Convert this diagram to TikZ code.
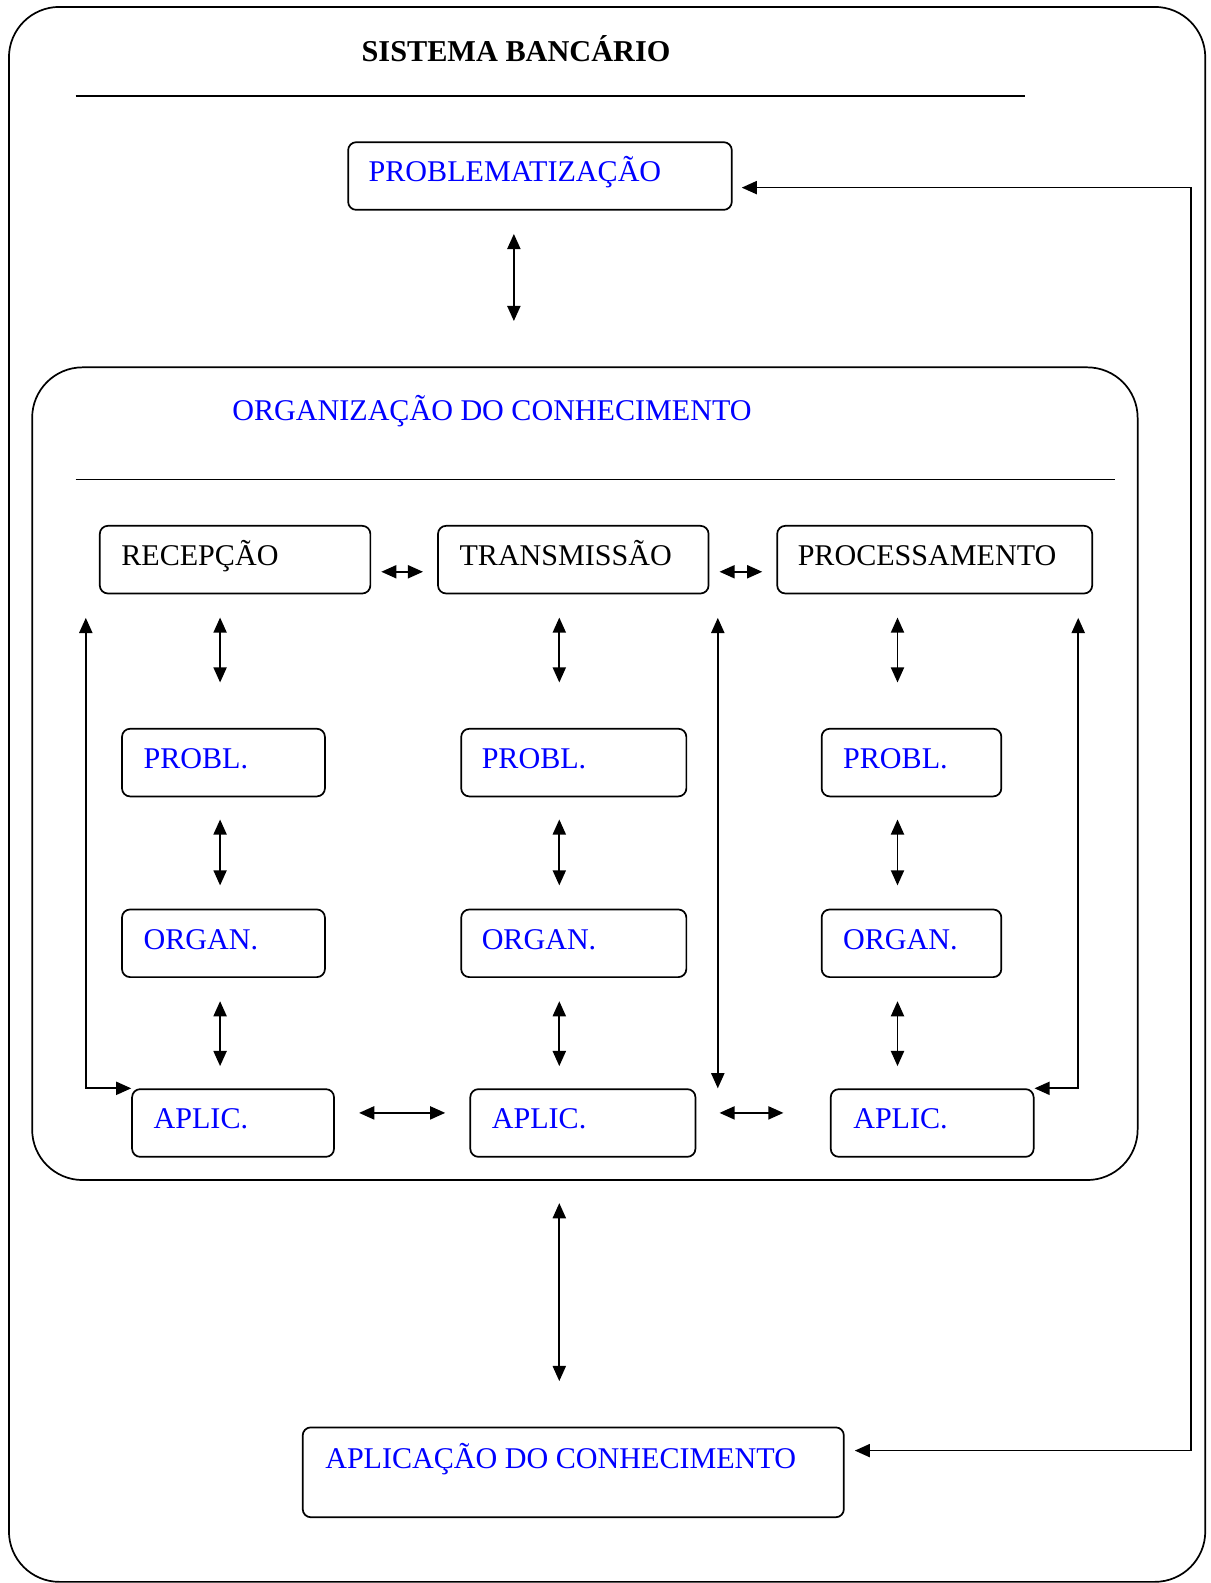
\documentclass[tikz,border=0pt]{standalone}
\usepackage{fontspec}
\setmainfont{Liberation Serif}
\usetikzlibrary{arrows.meta,calc}
\definecolor{txtblue}{RGB}{0,0,255}
\begin{document}
\begin{tikzpicture}[x=1pt,y=-1pt,
  box/.style={draw,line width=1.7pt,rounded corners=8pt,inner sep=0pt,anchor=north west},
  bigbox/.style={draw,line width=1.7pt,rounded corners=50pt,inner sep=0pt,anchor=north west},
  lbl/.style={inner sep=0pt,anchor=base west,font=\fontsize{29.8}{34}\selectfont},
  blbl/.style={lbl,text=txtblue},
  dbl/.style={line width=1.7pt,{Triangle[length=15pt,width=13pt]}-{Triangle[length=15pt,width=13pt]}},
  sep/.style={line width=1.6pt}]
\useasboundingbox (0,0) rectangle (1199,1568);
% outer frame
\node[bigbox,minimum width=1185pt,minimum height=1560pt] (outer) at (8,6) {};
\node[lbl,font=\fontsize{30}{34}\selectfont\bfseries] (title) at (358,61) {SISTEMA BANCÁRIO};
\draw[sep] (75,95) -- (1015,95);
% problematizacao
\node[box,minimum width=380pt,minimum height=67pt] (pb) at (344,140) {};
\node[blbl] (pbt) at (365,180) {PROBLEMATIZAÇÃO};
% organizacao
\node[bigbox,minimum width=1095pt,minimum height=805pt] (org) at (31,363) {};
\node[blbl] (orgt) at (230,417) {ORGANIZAÇÃO DO CONHECIMENTO};
\draw[sep] (75,475) -- (1104,475);
% top row
\node[box,minimum width=268pt,minimum height=67pt] (rec) at (98,520) {};
\node[lbl] (rect) at (120,560) {RECEPÇÃO};
\node[box,minimum width=268pt,minimum height=67pt] (tr) at (433,520) {};
\node[lbl] (trt) at (455,560) {TRANSMISSÃO};
\node[box,minimum width=312pt,minimum height=67pt] (pc) at (769,520) {};
\node[lbl] (pct) at (790,560) {PROCESSAMENTO};
% PROBL row
\node[box,minimum width=201pt,minimum height=67pt] (pr1) at (120,721) {};
\node[blbl] (pr1t) at (142,761) {PROBL.};
\node[box,minimum width=223pt,minimum height=67pt] (pr2) at (456,721) {};
\node[blbl] (pr2t) at (477,761) {PROBL.};
\node[box,minimum width=178pt,minimum height=67pt] (pr3) at (813,721) {};
\node[blbl] (pr3t) at (835,761) {PROBL.};
% ORGAN row
\node[box,minimum width=201pt,minimum height=67pt] (og1) at (120,900) {};
\node[blbl] (og1t) at (142,940) {ORGAN.};
\node[box,minimum width=223pt,minimum height=67pt] (og2) at (456,900) {};
\node[blbl] (og2t) at (477,940) {ORGAN.};
\node[box,minimum width=178pt,minimum height=67pt] (og3) at (813,900) {};
\node[blbl] (og3t) at (835,940) {ORGAN.};
% APLIC row
\node[box,minimum width=200pt,minimum height=67pt] (ap1) at (130,1078) {};
\node[blbl] (ap1t) at (152,1118) {APLIC.};
\node[box,minimum width=223pt,minimum height=67pt] (ap2) at (465,1078) {};
\node[blbl] (ap2t) at (487,1118) {APLIC.};
\node[box,minimum width=201pt,minimum height=67pt] (ap3) at (822,1078) {};
\node[blbl] (ap3t) at (845,1118) {APLIC.};
% aplicacao do conhecimento
\node[box,minimum width=536pt,minimum height=89pt] (apc) at (299,1413) {};
\node[blbl] (apct) at (322,1455) {APLICAÇÃO DO CONHECIMENTO};
% column coordinates
\coordinate (x0) at (509,0);
\coordinate (x1) at (218,0);
\coordinate (x2) at (554,0);
\coordinate (x3) at (889,0);
\coordinate (F1) at (1180,0);
% vertical arrows
\draw[dbl] ($(pb.south -| x0)+(0,23)$) -- ($(org.north -| x0)+(0,-45)$);
\foreach \c/\a/\b/\d in {x1/rec/pr1/og1, x2/tr/pr2/og2, x3/pc/pr3/og3}{
  \draw[dbl] ($(\a.south -| \c)+(0,23)$) -- ($(\b.north -| \c)+(0,-45)$);
  \draw[dbl] ($(\b.south -| \c)+(0,22)$) -- ($(\d.north -| \c)+(0,-23)$);
}
\draw[dbl] ($(og1.south -| x1)+(0,23)$) -- ($(ap1.north -| x1)+(0,-22)$);
\draw[dbl] ($(og2.south -| x2)+(0,23)$) -- ($(ap2.north -| x2)+(0,-22)$);
\draw[dbl] ($(og3.south -| x3)+(0,23)$) -- ($(ap3.north -| x3)+(0,-22)$);
% horizontal arrows
\draw[dbl] ($(rec.east)+(10,12)$) -- ($(tr.west)+(-14,12)$);
\draw[dbl] ($(tr.east)+(10,12)$) -- ($(pc.west)+(-14,12)$);
\draw[dbl] ($(ap1.east)+(24,-10)$) -- ($(ap2.west)+(-24,-10)$);
\draw[dbl] ($(ap2.east)+(23,-10)$) -- ($(ap3.west)+(-46,-10)$);
% loops
\coordinate (L1) at (85,612);
\coordinate (R1) at (1068,612);
\coordinate (M1) at (711,612);
\coordinate (M2) at (711,1078);
\draw[dbl] (L1) |- (ap1.north west);
\draw[dbl] (R1) |- (ap3.north east);
\draw[dbl] (M1) -- (M2);
% big arrow
\draw[dbl] ($(org.south -| x2)+(0,22)$) -- ($(apc.north -| x2)+(0,-45)$);
% feedback
\coordinate (fa) at ($(apc.east)+(10,-21.5)$);
\coordinate (fb) at ($(pb.east)+(9,11.5)$);
\draw[dbl] (fa) -- (fa -| F1) -- (fb -| F1) -- (fb);
\end{tikzpicture}
\end{document}
